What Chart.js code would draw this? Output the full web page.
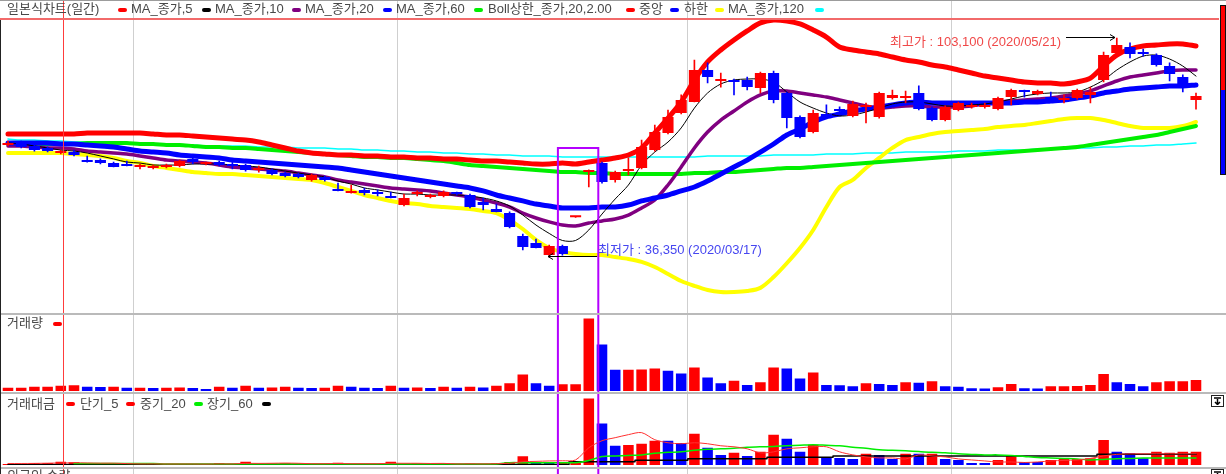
<!DOCTYPE html>
<html lang="ko">
<head>
<meta charset="utf-8">
<title>일본식차트(일간)</title>
<script src="https://cdn.jsdelivr.net/npm/chart.js"></script>
<style>
    html, body { margin: 0; padding: 0; background: #fff; }
    body { position: relative; width: 1226px; height: 474px; overflow: hidden;
           font-family: "Liberation Sans", "Noto Sans CJK KR", sans-serif; }
    canvas { position: absolute; left: 0; }
    #priceChart { top: 0; }
    #volumeChart { top: 313px; }
    #amountChart { top: 393px; }
    .lbl { position: absolute; font-size: 13px; line-height: 14px; color: #484848; white-space: nowrap; }
    .dot { position: absolute; width: 9px; height: 4px; border-radius: 2px; }
    .hline { position: absolute; left: 0; width: 1226px; }
    .icon { position: absolute; left: 1211px; width: 13px; height: 12px; border: 1px solid #222; background: #fff;
            box-sizing: border-box; display: flex; align-items: center; justify-content: center; }
</style>
</head>
<body>
<canvas id="priceChart" width="1226" height="313"></canvas>
<canvas id="volumeChart" width="1226" height="80"></canvas>
<canvas id="amountChart" width="1226" height="81"></canvas>

<!-- frame lines -->
<div class="hline" style="top:0;height:1px;background:#9c9c9c"></div>
<div class="hline" style="top:18px;height:2px;width:1219px;background:#f26a6a"></div>
<div class="hline" style="top:313px;height:2px;background:#bababa"></div>
<div class="hline" style="top:392px;height:2px;background:#bababa"></div>
<div class="hline" style="top:467px;height:2px;background:#bababa"></div>
<div style="position:absolute;left:0;top:20px;width:1px;height:454px;background:#222"></div>
<div style="position:absolute;left:1220px;top:5px;width:4px;height:168px;border:1px solid #111;background:linear-gradient(#ff0000 0 50%, #0000ff 50% 100%)"></div>

<!-- top legend -->
<div class="lbl" style="left:7px;top:2px">일본식차트(일간)</div>
<span class="dot" style="left:118px;top:8px;background:#ff0000"></span>
<div class="lbl" style="left:131px;top:2px">MA_종가,5</div>
<span class="dot" style="left:202px;top:8px;background:#000000"></span>
<div class="lbl" style="left:215px;top:2px">MA_종가,10</div>
<span class="dot" style="left:292px;top:8px;background:#800080"></span>
<div class="lbl" style="left:305px;top:2px">MA_종가,20</div>
<span class="dot" style="left:383px;top:8px;background:#0000ff"></span>
<div class="lbl" style="left:396px;top:2px">MA_종가,60</div>
<span class="dot" style="left:474px;top:8px;background:#00ee00"></span>
<div class="lbl" style="left:488px;top:2px">Boll상한_종가,20,2.00</div>
<span class="dot" style="left:626px;top:8px;background:#ff0000"></span>
<div class="lbl" style="left:639px;top:2px">중앙</div>
<span class="dot" style="left:670px;top:8px;background:#0000ff"></span>
<div class="lbl" style="left:684px;top:2px">하한</div>
<span class="dot" style="left:715px;top:8px;background:#ffff00"></span>
<div class="lbl" style="left:728px;top:2px">MA_종가,120</div>
<span class="dot" style="left:815px;top:8px;background:#00ffff"></span>

<!-- panel labels -->
<div class="lbl" style="left:7px;top:316px">거래량</div>
<span class="dot" style="left:53px;top:322px;background:#ff0000"></span>
<div class="lbl" style="left:7px;top:397px">거래대금</div>
<span class="dot" style="left:66px;top:402px;background:#ff0000"></span>
<div class="lbl" style="left:80px;top:397px">단기_5</div>
<span class="dot" style="left:126px;top:402px;background:#ff0000"></span>
<div class="lbl" style="left:140px;top:397px">중기_20</div>
<span class="dot" style="left:194px;top:402px;background:#00ee00"></span>
<div class="lbl" style="left:207px;top:397px">장기_60</div>
<span class="dot" style="left:262px;top:402px;background:#000000"></span>
<div class="lbl" style="left:7px;top:469px">외국인 수량</div>

<div class="icon" style="top:395px"><svg width="9" height="8"><path d="M1 1H8 M4.5 2V7.5 M2 5L4.5 7.5L7 5" stroke="#000" stroke-width="1.5" fill="none"/></svg></div>
<div class="icon" style="top:469px"><svg width="9" height="8"><path d="M1 1H8 M4.5 2V7.5 M2 5L4.5 7.5L7 5" stroke="#000" stroke-width="1.5" fill="none"/></svg></div>

<script>
// trading days shown on the chart
const dates = [
    '2020/01/16','2020/01/17','2020/01/20','2020/01/21','2020/01/22','2020/01/23','2020/01/28','2020/01/29','2020/01/30','2020/01/31',
    '2020/02/03','2020/02/04','2020/02/05','2020/02/06','2020/02/07','2020/02/10','2020/02/11','2020/02/12','2020/02/13','2020/02/14',
    '2020/02/17','2020/02/18','2020/02/19','2020/02/20','2020/02/21','2020/02/24','2020/02/25','2020/02/26','2020/02/27','2020/02/28',
    '2020/03/02','2020/03/03','2020/03/04','2020/03/05','2020/03/06','2020/03/09','2020/03/10','2020/03/11','2020/03/12','2020/03/13',
    '2020/03/16','2020/03/17','2020/03/18','2020/03/19','2020/03/20','2020/03/23','2020/03/24','2020/03/25','2020/03/26','2020/03/27',
    '2020/03/30','2020/03/31','2020/04/01','2020/04/02','2020/04/03','2020/04/06','2020/04/07','2020/04/08','2020/04/09','2020/04/10',
    '2020/04/13','2020/04/14','2020/04/16','2020/04/17','2020/04/20','2020/04/21','2020/04/22','2020/04/23','2020/04/24','2020/04/27',
    '2020/04/28','2020/04/29','2020/05/04','2020/05/06','2020/05/07','2020/05/08','2020/05/11','2020/05/12','2020/05/13','2020/05/14',
    '2020/05/15','2020/05/18','2020/05/19','2020/05/20','2020/05/21','2020/05/22','2020/05/25','2020/05/26','2020/05/27','2020/05/28',
    '2020/05/29'
];

// candles (원)
const opens = [
    70500,71400,70200,69600,68050,68350,65900,65900,65000,64400,
    63800,63500,63800,64100,66250,64700,65300,64700,64400,62900,
    62900,61950,61650,59850,60750,57100,55850,56800,56150,54950,
    52200,55550,54650,54950,55850,55250,53100,51000,49750,42750,
    40650,36950,39700,48450,62250,65000,59850,62550,63500,68950,
    74150,80250,83600,93350,90000,90300,90300,87850,92450,86350,
    79050,74450,79950,81450,79350,82100,79050,84800,84800,86350,
    81750,78100,81150,82100,82100,81450,85100,87250,86050,85100,
    84200,84800,85750,90300,98550,100350,98850,97900,94550,91200,
    84200
];
const highs = [
    71700,71700,70500,69900,68950,68950,67150,66250,65300,65600,
    64700,64400,64700,65900,67450,65300,65600,65600,64700,64100,
    63200,62250,61950,61650,61050,58900,58300,57400,56800,56150,
    55550,56500,55550,56500,56150,55550,54350,52500,50100,43350,
    41850,40000,40000,48450,62900,65300,62550,66550,72000,76600,
    81150,85750,96400,95500,92450,90600,91200,92750,93050,86650,
    79350,81150,82700,82100,83900,83300,86650,87250,86950,88500,
    82100,82400,83600,83300,83300,85100,87550,87250,87250,86650,
    85750,87550,88150,98850,103100,101600,99750,98250,95500,91850,
    86350
];
const lows = [
    70200,69600,68650,68350,67750,67150,65300,64700,63800,64100,
    63200,63200,63500,63800,64700,64400,64100,63200,62550,62250,
    61350,60750,60450,59500,59500,56500,55850,55250,54950,54350,
    51900,54950,54350,54650,55250,51300,50700,50100,45200,38500,
    39100,36350,36950,48450,57700,58900,59200,61350,63200,68650,
    73850,79950,83600,89400,88150,85750,87250,86350,83300,75700,
    72650,74150,78700,80250,79050,77200,78700,84500,83300,81150,
    77800,77800,80850,81750,81750,81150,82700,85100,85750,83900,
    83300,84500,83300,89700,98250,97000,97600,94550,90000,86650,
    81450
];
const closes = [
    71100,69900,68950,68650,68650,67450,65300,65000,63800,64100,
    64100,64100,64400,65600,65300,65000,64400,64100,62900,63500,
    61650,61050,60750,61350,59850,56500,56500,55850,55550,54350,
    54350,55850,55250,56150,55550,51600,52200,50100,45500,39400,
    39100,39700,37300,48450,62900,59200,62250,63200,69900,74450,
    79050,84200,93350,91200,90300,89700,88150,92450,84200,78700,
    72950,80250,79350,80850,83000,82400,86350,85750,85450,81450,
    78100,82100,83300,82700,82700,84800,87250,86650,86950,84200,
    84800,87250,86650,97900,100950,98250,98250,94900,92150,88150,
    85450
];

// moving averages / bollinger bands
const ma5 = [
    71100,70800,70200,69600,68950,68650,68050,67150,66250,65300,
    65000,64400,64400,64400,64700,64700,64700,64400,64100,63800,
    63200,62550,61950,61350,60750,59500,58600,57400,56800,56150,
    55550,55550,55250,55250,55250,54950,54350,53450,51900,49150,
    46100,43550,41400,41400,44600,49450,54050,58300,64400,68350,
    71400,75700,81750,86350,89100,90300,90600,90600,89700,86650,
    83600,81750,80250,79350,79650,80550,81750,83000,83600,83600,
    83000,82400,82400,82700,83000,83600,84500,85450,86050,86350,
    86350,86650,88150,90300,93350,95800,97600,97900,96700,94550,
    91500
];
const ma10 = [
    70200,70200,69900,69600,69600,69300,68650,68350,68050,67750,
    67150,66550,65900,65600,65300,65000,64400,63800,63500,63200,
    62900,62550,61950,61350,60750,59850,59200,58600,58000,57400,
    57100,56800,56500,55850,55250,54650,53750,52800,51600,49750,
    48250,47050,46100,45800,46700,47350,47950,49150,51300,53750,
    58300,63800,69600,74450,78100,80850,83600,85750,86950,86950,
    86350,85750,85100,84200,83300,82400,81750,82100,82400,82400,
    82100,82100,82100,82400,83000,83600,83900,84200,84500,84800,
    85450,86050,86950,88500,90000,91200,91850,92450,93050,93350,
    93350
];
const ma20 = [
    71100,71100,71100,71100,70800,70800,70500,70200,69900,69300,
    68650,68350,68050,67450,67150,66850,66550,65900,65600,65300,
    65000,64700,64400,64100,63800,63500,62900,62250,61650,61050,
    60450,59850,59200,58600,58000,57400,56500,55250,54350,53450,
    52500,51900,51300,51300,51300,51600,51600,52200,53450,54350,
    55250,56500,57700,59500,61650,63800,65900,68350,70800,73550,
    75350,77500,79050,79950,80850,81450,82100,82700,83300,83600,
    83300,83300,83300,83300,83300,83300,83300,83600,83600,83900,
    84200,84800,85450,86350,86950,87550,87850,88150,88500,88500,
    88800
];
const ma60 = [
    70800,70800,70800,70800,70800,70800,71100,71100,71100,71100,
    70800,70800,70500,70500,70200,69900,69900,69600,69600,69300,
    68950,68650,68350,68050,67750,67450,67150,66850,66850,66550,
    66550,66250,65900,65600,65000,64400,64100,63800,63500,63200,
    62900,62550,62250,62250,61950,61950,61650,61650,61650,61650,
    61650,61650,61950,61950,62250,62250,62550,62900,63200,63500,
    63500,63800,64100,64400,64700,65000,65300,65600,65900,66250,
    66550,66850,67150,67450,67750,68050,68350,68650,68950,69300,
    69600,69900,70500,71100,71700,72300,72950,73550,74450,75350,
    76300
];
const ma120 = [
    72300,72000,72000,71700,71700,71400,71400,71100,71100,70800,
    70800,70800,70500,70500,70500,70200,70200,70200,70200,69900,
    69900,69900,69600,69600,69600,69300,69300,68950,68950,68650,
    68650,68350,68350,68050,68050,67750,67750,67450,67450,67150,
    67150,67150,66850,66850,66850,66850,66850,66850,66850,66850,
    66850,66850,66850,67150,67150,67150,67150,67150,67450,67450,
    67450,67450,67750,67750,67750,68050,68050,68050,68350,68350,
    68350,68350,68650,68650,68650,68950,68950,68950,69300,69300,
    69300,69600,69600,69900,69900,70200,70200,70500,70500,70800,
    71100
];
const bollUpper = [
    73850,73850,73850,73850,73850,73850,74150,74150,74150,74150,
    74150,73850,73550,73550,73250,72950,72650,72300,72000,71400,
    70500,69600,68650,68050,67750,67450,67450,67150,67150,66850,
    66850,66550,66550,66250,66250,65900,65600,65600,65300,65000,
    64700,64700,65000,64700,65300,65900,66550,67450,69600,74150,
    78700,83600,90300,95800,99450,102500,105250,107700,108600,108300,
    107400,105550,103400,100350,99450,98850,98250,97300,96400,95800,
    94900,94250,93350,92450,91500,90900,90300,89700,89400,89400,
    89100,89700,90900,94550,97900,99750,100650,100950,101300,101300,
    100650
];
const bollLower = [
    68050,68050,68050,68050,68050,67750,67450,67150,66550,65600,
    65000,64100,63500,62900,62250,61950,61650,61650,61350,61050,
    60750,60450,60150,59850,58900,57700,56500,55250,54350,53450,
    52800,52500,51900,51600,51300,51000,50400,49750,47650,44900,
    41550,39100,37900,37300,36950,36950,36350,35750,34850,33300,
    31200,29050,27550,26300,25700,25700,26000,26950,30250,34450,
    39100,44600,51600,57700,59850,63500,66550,69600,72000,72950,
    73850,74450,74750,75050,75350,75950,76300,76600,77200,77800,
    78400,78700,78700,78100,77200,76300,75700,75700,75700,76300,
    77500
];

// 거래량 (천주)
const volumes = [
    330,330,430,430,530,570,430,400,430,330,
    330,300,330,360,300,200,430,330,530,330,
    360,430,330,300,330,530,430,330,300,530,
    330,360,300,430,330,430,360,530,770,1670,
    770,530,670,670,7300,4670,2130,2150,2170,2270,
    2030,1770,2370,1370,770,1030,600,870,2370,2270,
    1270,1870,600,570,470,770,700,600,870,840,
    970,470,440,270,250,370,700,270,240,470,
    490,500,600,1700,870,700,470,870,970,990,
    1100
];

// 거래대금 (억원) and its averages
const amounts = [
    10,10,20,20,33,27,10,10,15,10,
    10,10,10,10,10,7,20,10,33,10,
    13,20,10,10,13,23,10,10,10,33,
    10,13,10,13,10,13,10,20,30,87,
    30,23,27,27,657,410,190,197,210,240,
    240,217,310,170,100,120,90,130,300,260,
    130,200,80,70,60,110,100,60,110,110,
    110,60,50,20,20,50,100,30,30,50,
    67,60,67,247,130,117,67,130,120,130,
    130
];
const amountShort = [
    15,15,16,18,20,22,20,18,18,14,
    11,11,10,10,10,9,11,11,16,16,
    17,19,17,13,13,15,13,13,13,17,
    17,17,15,16,11,12,11,13,17,32,
    36,40,42,50,170,240,270,300,320,250,
    220,210,220,210,190,180,160,120,130,160,
    170,180,180,130,100,80,70,70,60,100,
    90,80,60,50,40,30,30,25,30,40,
    45,50,65,90,105,110,110,110,110,110,
    110
];
const amountMid = [
    null,null,null,null,null,15,15,15,15,15,
    15,15,10,10,10,10,10,10,10,10,
    10,10,10,10,10,10,10,10,10,10,
    10,10,10,10,10,10,10,10,23,23,
    23,23,23,23,45,83,90,95,100,115,
    125,130,145,155,160,165,175,180,183,190,
    195,200,195,190,175,165,150,145,140,133,
    125,120,110,105,100,100,95,85,75,70,
    65,60,50,55,63,65,68,70,70,70,
    70
];
const amountLong = [
    6,6,6,6,6,6,6,6,6,6,
    6,6,6,6,6,6,6,6,6,6,
    6,6,6,6,6,6,6,6,6,6,
    6,6,6,6,6,6,6,6,6,6,
    6,6,6,33,33,33,33,33,47,47,
    47,47,63,63,63,63,63,63,77,77,
    77,77,77,90,90,90,90,90,90,90,
    90,90,90,90,90,90,90,90,90,90,
    90,90,90,107,107,107,107,107,107,107,
    107
];

// marked spots
const cursorIndex = 4;
const boxFrom = 42, boxTo = 44, boxTopPrice = 69600;

document.addEventListener("DOMContentLoaded", function () {
    const UP = "#ff0000", DOWN = "#0000ff";
    const PAD = { left: 1.4, right: 23.4 };

    const candleColors = closes.map((c, i) => c >= opens[i] ? UP : DOWN);
    // bars are coloured by the change of volume against the day before
    const volColors = volumes.map((v, i) => i === 0 || v >= volumes[i - 1] ? UP : DOWN);

    // month boundary lines through the whole canvas
    const monthLines = {
        id: "monthLines",
        beforeDatasetsDraw(chart) {
            const x = chart.scales.x, ctx = chart.ctx;
            ctx.save();
            ctx.strokeStyle = "#cfcfcf";
            ctx.lineWidth = 1;
            for (let i = 1; i < dates.length; i++) {
                if (dates[i].slice(0, 7) === dates[i - 1].slice(0, 7)) continue;
                const px = Math.floor((x.getPixelForValue(i - 1) + x.getPixelForValue(i)) / 2) + 0.5;
                ctx.beginPath();
                ctx.moveTo(px, 0);
                ctx.lineTo(px, chart.height);
                ctx.stroke();
            }
            ctx.restore();
        }
    };

    // red cursor line and the violet selection box
    const overlays = {
        id: "overlays",
        afterDatasetsDraw(chart, args, opts) {
            const x = chart.scales.x, ctx = chart.ctx;
            ctx.save();
            const cx = Math.round(x.getPixelForValue(cursorIndex)) + 2.5;
            ctx.strokeStyle = "#ff3c3c";
            ctx.lineWidth = 1;
            ctx.beginPath();
            ctx.moveTo(cx, 0);
            ctx.lineTo(cx, chart.height);
            ctx.stroke();

            const left = x.getPixelForValue(boxFrom) - 4.5;
            const right = x.getPixelForValue(boxTo) + 9.5;
            const top = opts.withTop ? Math.round(chart.scales.y.getPixelForValue(boxTopPrice)) : -3;
            ctx.strokeStyle = "#b400ff";
            ctx.lineWidth = 2;
            ctx.beginPath();
            ctx.moveTo(left, chart.height + 3);
            ctx.lineTo(left, top);
            ctx.lineTo(right, top);
            ctx.lineTo(right, chart.height + 3);
            ctx.stroke();
            ctx.restore();
        }
    };

    // 최저가 / 최고가 notes
    const priceNotes = {
        id: "priceNotes",
        afterDatasetsDraw(chart) {
            const x = chart.scales.x, y = chart.scales.y, ctx = chart.ctx;
            const lo = Math.min(...lows), loIdx = lows.indexOf(lo);
            const hi = Math.max(...highs), hiIdx = highs.indexOf(hi);
            const fmt = v => v.toLocaleString("en-US");
            ctx.save();
            ctx.font = '13px "Liberation Sans", "Noto Sans CJK KR", sans-serif';
            ctx.textBaseline = "middle";
            ctx.strokeStyle = "#000";
            ctx.lineWidth = 1;

            const lx = Math.round(x.getPixelForValue(loIdx)) - 1;
            const ly = Math.round(y.getPixelForValue(lo)) - 0.5;
            ctx.beginPath();
            ctx.moveTo(lx + 49, ly);
            ctx.lineTo(lx, ly);
            ctx.moveTo(lx + 5, ly - 3);
            ctx.lineTo(lx, ly);
            ctx.lineTo(lx + 5, ly + 3);
            ctx.stroke();
            ctx.fillStyle = "#4646f0";
            ctx.textAlign = "left";
            ctx.fillText("최저가 : " + fmt(lo) + " (" + dates[loIdx] + ")", lx + 50, ly - 6);

            const hx = Math.round(x.getPixelForValue(hiIdx)) - 2;
            const hy = Math.round(y.getPixelForValue(hi)) - 0.5;
            ctx.beginPath();
            ctx.moveTo(hx - 49, hy);
            ctx.lineTo(hx, hy);
            ctx.moveTo(hx - 5, hy - 3);
            ctx.lineTo(hx, hy);
            ctx.lineTo(hx - 5, hy + 3);
            ctx.stroke();
            ctx.fillStyle = "#f04848";
            ctx.textAlign = "right";
            ctx.fillText("최고가 : " + fmt(hi) + " (" + dates[hiIdx] + ")", hx - 54, hy + 5);
            ctx.restore();
        }
    };

    function lineSet(label, data, color, width, order) {
        return {
            type: "line",
            label: label,
            data: data,
            borderColor: color,
            borderWidth: width,
            pointRadius: 0,
            tension: 0.3,
            borderJoinStyle: "round",
            borderCapStyle: "round",
            fill: false,
            order: order
        };
    }

    function baseOptions(padTop, padBottom, yMin, yMax, withTop) {
        return {
            responsive: false,
            animation: false,
            devicePixelRatio: 1,
            events: [],
            layout: { padding: { left: PAD.left, right: PAD.right, top: padTop, bottom: padBottom } },
            plugins: {
                legend: { display: false },
                tooltip: { enabled: false },
                overlays: { withTop: withTop }
            },
            scales: {
                x: { display: false, offset: true },
                y: { display: false, min: yMin, max: yMax }
            }
        };
    }

    function initializePriceChart() {
        const ctx = document.getElementById("priceChart").getContext("2d");
        new Chart(ctx, {
            type: "bar",
            data: {
                labels: dates,
                datasets: [
                    {
                        label: "일본식차트(일간)",
                        data: opens.map((o, i) => [o, closes[i]]),
                        backgroundColor: candleColors,
                        barPercentage: 0.84,
                        categoryPercentage: 1,
                        grouped: false,
                        minBarLength: 2,
                        order: 0
                    },
                    {
                        label: "꼬리",
                        data: lows.map((l, i) => [l, highs[i]]),
                        backgroundColor: candleColors,
                        barThickness: 1,
                        grouped: false,
                        order: 1
                    },
                    lineSet("MA_종가,5", ma5, "#000000", 1, 2),
                    lineSet("MA_종가,20", ma20, "#0000ff", 5, 3),
                    lineSet("MA_종가,10", ma10, "#800080", 3.5, 4),
                    lineSet("Boll상한_종가,20,2.00", bollUpper, "#ff0000", 5, 5),
                    lineSet("MA_종가,60", ma60, "#00ee00", 4, 6),
                    lineSet("하한", bollLower, "#ffff00", 4, 7),
                    lineSet("MA_종가,120", ma120, "#00ffff", 1.5, 8)
                ]
            },
            options: baseOptions(18, 1, 19600, 109200, true),
            plugins: [monthLines, overlays, priceNotes]
        });
    }

    function initializeVolumeChart() {
        const ctx = document.getElementById("volumeChart").getContext("2d");
        new Chart(ctx, {
            type: "bar",
            data: {
                labels: dates,
                datasets: [{
                    label: "거래량",
                    data: volumes,
                    backgroundColor: volColors,
                    barPercentage: 0.8,
                    categoryPercentage: 1
                }]
            },
            options: baseOptions(2, 2, 0, 7650, false),
            plugins: [monthLines, overlays]
        });
    }

    function initializeAmountChart() {
        const ctx = document.getElementById("amountChart").getContext("2d");
        const short = lineSet("단기_5", amountShort, "#ff3030", 1, 1);
        const mid = lineSet("중기_20", amountMid, "#00ee00", 1.5, 2);
        const long = lineSet("장기_60", amountLong, "#000000", 1.5, 3);
        long.stepped = "middle";
        long.tension = 0;
        new Chart(ctx, {
            type: "bar",
            data: {
                labels: dates,
                datasets: [
                    short, mid, long,
                    {
                        label: "거래대금",
                        data: amounts,
                        backgroundColor: volColors,
                        barPercentage: 0.8,
                        categoryPercentage: 1,
                        order: 4
                    }
                ]
            },
            options: baseOptions(3, 9, 0, 682, false),
            plugins: [monthLines, overlays]
        });
    }

    initializePriceChart();
    initializeVolumeChart();
    initializeAmountChart();
});
</script>
</body>
</html>
